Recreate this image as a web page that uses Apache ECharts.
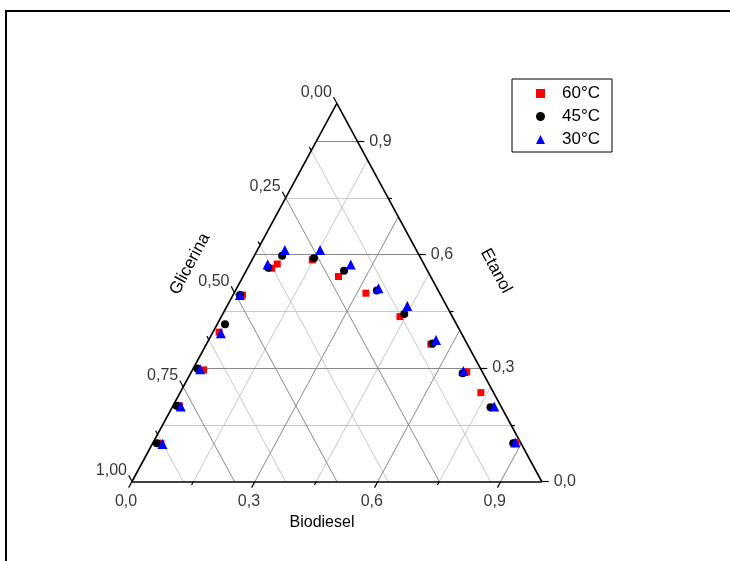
<!DOCTYPE html>
<html>
<head>
<meta charset="UTF-8" />
<script type="text/javascript" src="https://cdn.jsdelivr.net/npm/echarts@6.0.0/dist/echarts.min.js"></script>
<title>Diagrama ternário</title>
<style>
	html, body { margin: 0; padding: 0; background: #fff; }
	#main { width: 730px; height: 561px; }
</style>
</head>
<body>
<div id="main"></div>
<script type="text/javascript">
	// frações mássicas; glicerina = 1 - biodiesel - etanol
	var bio60 = [0.020, 0.016, 0.027, 0.015, 0.023, 0.059, 0.067, 0.147, 0.233, 0.322, 0.436, 0.548, 0.672, 0.734, 0.886]
	var eta60 = [0.101, 0.200, 0.295, 0.395, 0.493, 0.564, 0.575, 0.586, 0.542, 0.498, 0.436, 0.363, 0.290, 0.235, 0.103]
	var bio45 = [0.010, 0.009, 0.010, 0.019, 0.017, 0.050, 0.068, 0.149, 0.239, 0.345, 0.443, 0.551, 0.664, 0.777, 0.880]
	var eta45 = [0.101, 0.200, 0.299, 0.416, 0.493, 0.565, 0.597, 0.590, 0.557, 0.505, 0.443, 0.365, 0.286, 0.196, 0.101]
	var bio30 = [0.025, 0.020, 0.018, 0.021, 0.017, 0.044, 0.067, 0.153, 0.247, 0.346, 0.440, 0.555, 0.663, 0.785, 0.884]
	var eta30 = [0.099, 0.198, 0.297, 0.392, 0.493, 0.574, 0.612, 0.612, 0.574, 0.511, 0.464, 0.374, 0.292, 0.198, 0.103]

	// eixos (biodiesel embaixo, etanol à direita, glicerina à esquerda)
	var bioTicks = [0, 0.3, 0.6, 0.9]
	var bioLabels = ['0,0', '0,3', '0,6', '0,9']
	var etaTicks = [0, 0.3, 0.6, 0.9]
	var etaLabels = ['0,0', '0,3', '0,6', '0,9']
	var gliTicks = [0, 0.25, 0.5, 0.75, 1]
	var gliLabels = ['0,00', '0,25', '0,50', '0,75', '1,00']
	var bioMinor = [0.15, 0.45, 0.75]
	var etaMinor = [0.15, 0.45, 0.75]
	var gliMinor = [0.125, 0.375, 0.625, 0.875]

	var FONT = 'Liberation Sans, Arial, sans-serif'
	var GL = 132, GT = 103.3, GW = 409.7, GH = 378.2
	var SLANT = Math.sqrt(GW * GW / 4 + GH * GH)

	function xy(b, e) {
		return [b + e / 2, e]
	}

	function pts(bio, eta) {
		var d = []
		for (var i = 0; i < bio.length; i++) {
			d.push(xy(bio[i], eta[i]))
		}
		return d
	}

	// segmentos de grade
	function bioLine(b) { return { coords: [xy(b, 0), xy(b, 1 - b)] } }
	function etaLine(e) { return { coords: [xy(0, e), xy(1 - e, e)] } }
	function gliLine(g) { return { coords: [xy(0, 1 - g), xy(1 - g, 0)] } }

	var majorGrid = [], minorGrid = []
	bioTicks.forEach(function (v) { if (v > 0) majorGrid.push(bioLine(v)) })
	etaTicks.forEach(function (v) { if (v > 0) majorGrid.push(etaLine(v)) })
	gliTicks.forEach(function (v) { if (v > 0 && v < 1) majorGrid.push(gliLine(v)) })
	bioMinor.forEach(function (v) { minorGrid.push(bioLine(v)) })
	etaMinor.forEach(function (v) { minorGrid.push(etaLine(v)) })
	gliMinor.forEach(function (v) { minorGrid.push(gliLine(v)) })

	var edges = [
		{ coords: [xy(0, 0), xy(1, 0)] },
		{ coords: [xy(1, 0), xy(0, 1)] },
		{ coords: [xy(0, 1), xy(0, 0)] }
	]

	// marcas dos eixos, para fora do triângulo
	var ticks = []
	function addTicks(list, len) {
		var s = len / SLANT
		list.b.forEach(function (b) {
			ticks.push({ coords: [[b, 0], [b - s / 2, -s]] })
		})
		list.e.forEach(function (e) {
			ticks.push({ coords: [[1 - e / 2, e], [1 - e / 2 + len / GW, e]] })
		})
		list.g.forEach(function (g) {
			var p = xy(0, 1 - g)
			ticks.push({ coords: [p, [p[0] - s / 2, p[1] + s]] })
		})
	}
	addTicks({ b: bioTicks, e: etaTicks, g: gliTicks }, 7)
	addTicks({ b: bioMinor, e: etaMinor, g: gliMinor }, 4)

	function labelData(vals, names, fn) {
		return vals.map(function (v, i) {
			return { value: fn(v), name: names[i] }
		})
	}

	function labelSeries(data, lab) {
		return {
			type: 'scatter',
			symbolSize: 1,
			itemStyle: { color: 'transparent' },
			silent: true,
			clip: false,
			z: 5,
			label: Object.assign({
				show: true,
				position: 'inside',
				formatter: '{b}',
				color: '#000',
				fontSize: 16,
				fontFamily: FONT,
				verticalAlign: 'middle'
			}, lab),
			data: data
		}
	}

	function gridSeries(data, color, width, z) {
		return {
			type: 'lines',
			coordinateSystem: 'cartesian2d',
			polyline: false,
			silent: true,
			clip: false,
			z: z,
			lineStyle: { color: color, width: width, opacity: 1, curveness: 0 },
			data: data
		}
	}

	var option = {
		animation: false,
		backgroundColor: '#fff',
		grid: { left: GL, top: GT, width: GW, height: GH },
		xAxis: { type: 'value', min: 0, max: 1, show: false },
		yAxis: { type: 'value', min: 0, max: 1, show: false },
		legend: {
			left: 512,
			top: 79,
			orient: 'vertical',
			itemWidth: 9,
			itemHeight: 9,
			itemGap: 6,
			padding: [6, 12, 4, 24],
			borderColor: '#000',
			borderWidth: 1,
			borderRadius: 0,
			textStyle: { fontSize: 17, fontFamily: FONT, color: '#000', padding: [0, 0, 0, 12] },
			data: [
				{ name: '60°C', icon: 'rect' },
				{ name: '45°C', icon: 'circle' },
				{ name: '30°C', icon: 'triangle' }
			]
		},
		graphic: [
			{
				type: 'rect',
				shape: { x: 6, y: 11, width: 740, height: 600 },
				style: { fill: 'none', stroke: '#000', lineWidth: 2 },
				silent: true
			},
			{
				type: 'text', x: 322, y: 523,
				style: { text: 'Biodiesel', fontSize: 16, fontFamily: FONT, fill: '#000', align: 'center', verticalAlign: 'middle' }
			},
			{
				type: 'text', x: 190, y: 264, rotation: 61.6 * Math.PI / 180,
				style: { text: 'Glicerina', fontSize: 17, fontFamily: FONT, fill: '#000', align: 'center', verticalAlign: 'middle' }
			},
			{
				type: 'text', x: 496, y: 271, rotation: -61.6 * Math.PI / 180,
				style: { text: 'Etanol', fontSize: 17, fontFamily: FONT, fill: '#000', align: 'center', verticalAlign: 'middle' }
			}
		],
		series: [
			gridSeries(minorGrid, '#c8c8c8', 1, 1),
			gridSeries(majorGrid, '#8a8a8a', 1, 2),
			gridSeries(edges, '#000', 1.6, 3),
			gridSeries(ticks, '#000', 1.2, 3),
			labelSeries(labelData(bioTicks, bioLabels, function (b) { return [b, 0] }),
				{ offset: [-6, 20], align: 'center' }),
			labelSeries(labelData(etaTicks, etaLabels, function (e) { return [1 - e / 2, e] }),
				{ offset: [12, 0], align: 'left' }),
			labelSeries(labelData(gliTicks, gliLabels, function (g) { return xy(0, 1 - g) }),
				{ offset: [-5, -11], align: 'right' }),
			{
				name: '60°C', type: 'scatter', symbol: 'rect', symbolSize: 7, z: 10,
				itemStyle: { color: '#ff0000', opacity: 1 },
				data: pts(bio60, eta60)
			},
			{
				name: '45°C', type: 'scatter', symbol: 'circle', symbolSize: 8, z: 11,
				itemStyle: { color: '#000000', opacity: 1 },
				data: pts(bio45, eta45)
			},
			{
				name: '30°C', type: 'scatter', symbol: 'triangle', symbolSize: 10, z: 12,
				itemStyle: { color: '#0000ff', opacity: 1 },
				data: pts(bio30, eta30)
			}
		]
	}

	var myChart = echarts.init(document.getElementById('main'))
	myChart.setOption(option)
</script>
</body>
</html>
